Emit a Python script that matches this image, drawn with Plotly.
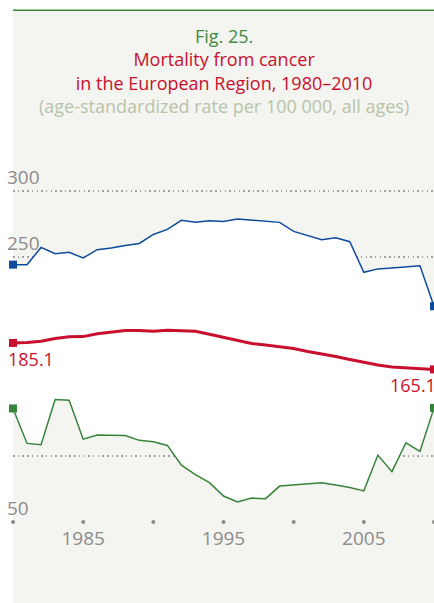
import plotly.graph_objects as go

years = list(range(1980, 2011))
blue = [244.2, 244.2, 257.2, 252.5, 253.5, 249.2, 255.5, 256.8, 258.7, 260.2, 267.0, 270.8,
        277.6, 276.1, 277.4, 276.8, 278.6, 277.9, 276.8, 276.1, 269.3, 266.3, 263.0, 264.5,
        261.5, 238.4, 241.0, 241.7, 242.5, 243.4, 212.8]
red = [185.1, 185.4, 186.4, 188.4, 189.7, 189.9, 192.0, 193.2, 194.5, 194.5, 193.9, 194.7,
       194.5, 193.9, 191.7, 189.4, 187.3, 184.7, 183.5, 182.4, 180.9, 178.6, 176.8, 174.9,
       172.6, 170.4, 168.5, 167.0, 166.2, 165.4, 165.15]
green = [135.7, 109.3, 108.3, 142.5, 141.9, 112.5, 115.6, 115.3, 115.3, 111.6, 110.6, 107.8,
         92.9, 85.7, 79.7, 69.6, 65.1, 68.1, 67.6, 77.1, 77.8, 78.6, 79.6, 78.0,
         76.1, 73.5, 100.5, 88.0, 109.8, 103.3, 136.1]

y_tickvals = [50, 100, 150, 200, 250, 300]
y_ticktext = ["50", "", "", "", "250", "300"]
x_tickvals = [1985, 1995, 2005]
x_ticktext = ["1985", "1995", "2005"]
dot_years = [1980, 1985, 1990, 1995, 2000, 2005, 2010]

BLUE = "#0d4c9a"
RED = "#c8102e"
GREEN = "#37833a"
GREY = "#8c8c8c"
BG = "#f4f4f0"
FONT = "Open Sans, sans-serif"

fig = go.Figure()

# white band between green and blue series
fig.add_trace(go.Scatter(x=years, y=green, mode="lines", line=dict(width=0),
                         hoverinfo="skip", showlegend=False))
fig.add_trace(go.Scatter(x=years, y=blue, mode="lines", line=dict(width=0),
                         fill="tonexty", fillcolor="white",
                         hoverinfo="skip", showlegend=False))

# axis dots
fig.add_trace(go.Scatter(x=dot_years, y=[50] * len(dot_years), mode="markers",
                         marker=dict(size=4, color="#8a8a8a"), cliponaxis=False,
                         hoverinfo="skip", showlegend=False))

for vals, col, w in [(green, GREEN, 1.5), (blue, BLUE, 1.5), (red, RED, 3)]:
    fig.add_trace(go.Scatter(x=years, y=vals, mode="lines", line=dict(color=col, width=w),
                             showlegend=False, cliponaxis=False))
    fig.add_trace(go.Scatter(x=[years[0], years[-1]], y=[vals[0], vals[-1]], mode="markers",
                             marker=dict(symbol="square", size=8, color=col),
                             showlegend=False, cliponaxis=False))

fig.add_annotation(x=years[0], y=red[0], text=f"{red[0]:g}", showarrow=False,
                   xanchor="left", yanchor="top", xshift=-7, yshift=-2,
                   font=dict(family=FONT, size=18, color=RED))
fig.add_annotation(x=years[-1], y=red[-1], text=f"{red[-1]:g}", showarrow=False,
                   xanchor="left", yanchor="top", xshift=-46, yshift=-2,
                   font=dict(family=FONT, size=18, color=RED))

title = ("<span style='color:#3d8b3d'>Fig. 25.</span><br>"
         "<span style='color:#c8102e'>Mortality from cancer</span><br>"
         "<span style='color:#c8102e'>in the European Region, 1980–2010</span><br>"
         "<span style='color:#b7c4a8'>(age-standardized rate per 100 000, all ages)</span>")
fig.add_annotation(x=0.5, y=1.0, xref="paper", yref="paper", text=title, showarrow=False,
                   yanchor="top", xanchor="center", yshift=128, xshift=0,
                   font=dict(family=FONT, size=18, color=RED))

fig.update_layout(
    width=434, height=603,
    margin=dict(l=13, r=0, t=150, b=81, pad=0, autoexpand=False),
    paper_bgcolor="white", plot_bgcolor="rgba(0,0,0,0)",
    font=dict(family=FONT, size=18, color=GREY),
    shapes=[
        dict(type="rect", xref="paper", yref="paper", x0=0, x1=1.01, y0=-0.22, y1=1.376,
             fillcolor=BG, line=dict(width=0), layer="below"),
        dict(type="line", xref="paper", yref="paper", x0=0, x1=1.01, y0=1.376, y1=1.376,
             line=dict(color="#3d8b3d", width=1.5), layer="above"),
    ],
    xaxis=dict(range=[1980, 2010], tickvals=x_tickvals, ticktext=x_ticktext,
               showgrid=False, zeroline=False, showline=False, ticks="", automargin=False,
               ticklabelstandoff=3,
               tickfont=dict(family=FONT, size=19, color=GREY)),
    yaxis=dict(range=[50, 330.7], tickvals=y_tickvals, ticktext=y_ticktext,
               showgrid=True, gridcolor="#a0a0a0", gridwidth=1.5, griddash="1.5px,3.2px",
               zeroline=False, showline=False, ticks="", automargin=False,
               ticklabelposition="inside top", ticklabelstandoff=-9,
               tickfont=dict(family=FONT, size=19, color=GREY)),
)

fig.write_html("out.html", config={"displayModeBar": False},
               post_script="document.body.style.margin='0px';")
